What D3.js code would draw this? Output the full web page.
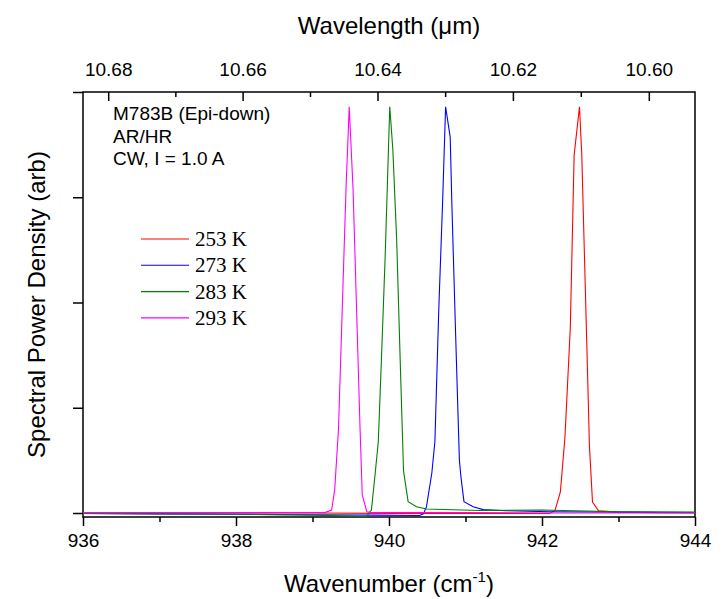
<!DOCTYPE html>
<html>
<head>
<meta charset="utf-8">
<script src="https://cdn.jsdelivr.net/npm/d3@7"></script>
<style>
  body { margin: 0; background: #fff; }
</style>
</head>
<body>
<div id="chart"></div>
<script>
// series labels + colours (legend order)
var seriesNames = ["253 K", "273 K", "283 K", "293 K"];
var seriesColors = ["#ff0000", "#0000ff", "#008000", "#ff00ff"];

// [wavenumber cm-1, spectral power density (arb)]
var red253 = [[936.0, 0.000], [937.0, 0.000], [938.0, 0.000], [939.0, 0.000], [940.0, -0.001],
  [941.0, -0.001], [942.0, -0.001], [942.10, -0.001], [942.17, 0.006], [942.24, 0.05],
  [942.30, 0.18], [942.37, 0.44], [942.42, 0.85], [942.49, 0.965], [942.52, 0.85],
  [942.58, 0.44], [942.62, 0.16], [942.66, 0.026], [942.74, 0.005], [943.0, 0.002],
  [943.5, 0.001], [944.0, 0.001]];

var blue273 = [[936.0, -0.001], [937.0, -0.002], [938.0, -0.003], [939.0, -0.004], [939.8, -0.005],
  [940.40, -0.006], [940.45, -0.002], [940.49, 0.015], [940.56, 0.095], [940.60, 0.17],
  [940.65, 0.48], [940.70, 0.735], [940.74, 0.965], [940.80, 0.893], [940.82, 0.745],
  [940.87, 0.43], [940.92, 0.126], [940.94, 0.086], [940.98, 0.027], [941.10, 0.015],
  [941.23, 0.008], [941.54, 0.0055], [942.10, 0.003], [943.0, 0.002], [944.0, 0.001]];

var green283 = [[936.0, -0.001], [937.0, -0.002], [938.0, -0.003], [939.0, -0.005], [939.5, -0.007],
  [939.71, -0.009], [939.73, -0.002], [939.77, 0.007], [939.82, 0.095], [939.86, 0.17],
  [939.90, 0.36], [939.95, 0.61], [940.01, 0.965], [940.05, 0.864], [940.10, 0.65],
  [940.15, 0.34], [940.19, 0.10], [940.25, 0.027], [940.36, 0.015], [940.49, 0.0095],
  [941.19, 0.006], [942.0, 0.007], [943.0, 0.003], [944.0, 0.002]];

var magenta293 = [[936.0, 0.001], [937.0, 0.001], [938.0, 0.001], [939.0, 0.001], [939.16, 0.001],
  [939.25, 0.007], [939.29, 0.055], [939.34, 0.20], [939.40, 0.55], [939.44, 0.78],
  [939.48, 0.965], [939.53, 0.77], [939.58, 0.46], [939.62, 0.21], [939.65, 0.043],
  [939.71, 0.003], [939.78, 0.001], [941.0, 0.001], [942.0, 0.0], [943.0, 0.0], [944.0, 0.0]];

var allSeries = [red253, blue273, green283, magenta293];

// ticks
var wnMajor = [936, 938, 940, 942, 944];
var wnMinor = [937, 939, 941, 943];
var wlMajor = [10.68, 10.66, 10.64, 10.62, 10.60];
var wlMinor = [10.67, 10.65, 10.63, 10.61];
var yTicks = [0, 0.25, 0.5, 0.75, 1.0];

var notes = ["M783B (Epi-down)", "AR/HR", "CW, I = 1.0 A"];

var sans = "'Liberation Sans', Arial, sans-serif";
var serif = "'Liberation Serif', 'Times New Roman', serif";

var svgWidth = 723;
var svgHeight = 599;
var margin = { top: 92, right: 28, bottom: 82, left: 83 };
var width = svgWidth - margin.left - margin.right;
var height = svgHeight - margin.top - margin.bottom;

var svg = d3.select("#chart")
  .append("svg")
  .attr("width", svgWidth)
  .attr("height", svgHeight)
  .style("font-family", sans);

var chartGroup = svg.append("g")
  .attr("transform", `translate(${margin.left}, ${margin.top})`);

var x = d3.scaleLinear().domain([936, 944]).range([0, width]);
var y = d3.scaleLinear().domain([-0.0095, 1.0]).range([height, 0]);

// bottom axis
var bottomAxis = d3.axisBottom(x).tickValues(wnMajor).tickSize(9).tickPadding(8).tickFormat(d3.format("d"));
chartGroup.append("g").attr("transform", `translate(0, ${height})`).call(bottomAxis);
chartGroup.append("g").attr("transform", `translate(0, ${height})`)
  .call(d3.axisBottom(x).tickValues(wnMinor).tickSize(5).tickFormat(""));

// top axis: wavelength = 10000 / wavenumber
var topAxis = d3.axisTop(x).tickValues(wlMajor.map(d => 1e4 / d)).tickSize(-9).tickPadding(16)
  .tickFormat(d => (1e4 / d).toFixed(2));
chartGroup.append("g").call(topAxis);
chartGroup.append("g")
  .call(d3.axisTop(x).tickValues(wlMinor.map(d => 1e4 / d)).tickSize(-5).tickFormat(""));

// left axis, no labels
chartGroup.append("g").call(d3.axisLeft(y).tickValues(yTicks).tickSize(10).tickFormat(""));

chartGroup.selectAll(".domain").remove();
chartGroup.selectAll(".tick line").attr("stroke", "#000").attr("stroke-width", 1.5);
chartGroup.selectAll(".tick text").attr("font-size", 19).attr("fill", "#000")
  .attr("font-family", sans);

// frame
chartGroup.append("rect")
  .attr("width", width).attr("height", height)
  .attr("fill", "none").attr("stroke", "#000").attr("stroke-width", 1.5);

// lines
var line = d3.line().x(d => x(d[0])).y(d => y(d[1]));
chartGroup.selectAll(".spec")
  .data(allSeries)
  .enter()
  .append("path")
  .attr("class", "spec")
  .attr("d", line)
  .attr("fill", "none")
  .attr("stroke", (d, i) => seriesColors[i])
  .attr("stroke-width", 1.1);

// notes
chartGroup.selectAll(".note")
  .data(notes)
  .enter()
  .append("text")
  .attr("x", 30)
  .attr("y", (d, i) => 28 + i * 22.5)
  .attr("font-size", 19)
  .text(d => d);

// legend
var legend = chartGroup.selectAll(".leg")
  .data(seriesNames)
  .enter()
  .append("g")
  .attr("transform", (d, i) => `translate(58, ${147 + i * 26.3})`);
legend.append("line")
  .attr("x1", 0).attr("x2", 48)
  .attr("stroke", (d, i) => seriesColors[i])
  .attr("stroke-width", 1.1);
legend.append("text")
  .attr("x", 54).attr("dy", "0.33em")
  .style("font-family", serif)
  .attr("font-size", 21)
  .text(d => d);

// axis titles
svg.append("text")
  .attr("x", margin.left + width / 2).attr("y", 34)
  .attr("text-anchor", "middle").attr("font-size", 24)
  .text("Wavelength (\u03bcm)");

var xt = svg.append("text")
  .attr("x", margin.left + width / 2).attr("y", 592)
  .attr("text-anchor", "middle").attr("font-size", 24);
xt.append("tspan").text("Wavenumber (cm");
xt.append("tspan").attr("font-size", 15).attr("dy", -10).text("-1");
xt.append("tspan").attr("dy", 10).text(")");

svg.append("text")
  .attr("transform", "rotate(-90)")
  .attr("x", -(margin.top + height / 2))
  .attr("y", 45)
  .attr("text-anchor", "middle").attr("font-size", 24)
  .text("Spectral Power Density (arb)");
</script>
</body>
</html>
